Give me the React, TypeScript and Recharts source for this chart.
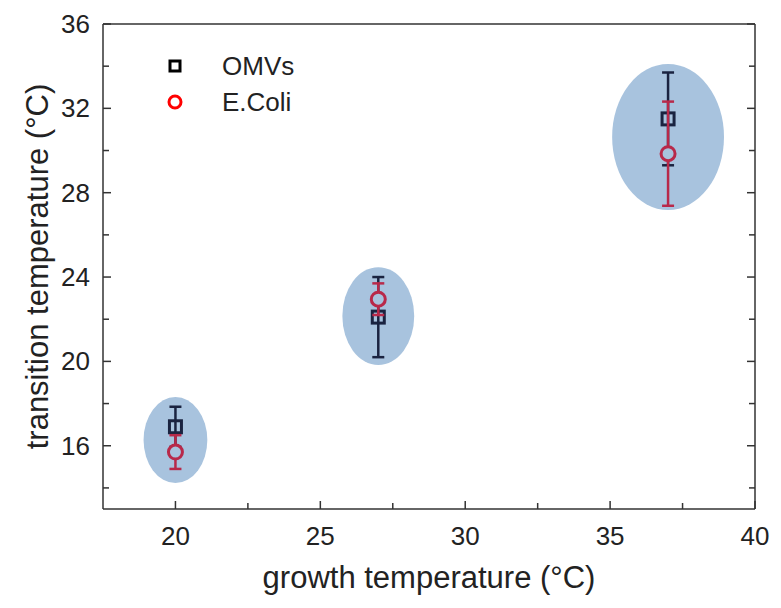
import React from "react";
import { ScatterChart, Scatter, XAxis, YAxis, Legend } from "recharts";

document.body.style.margin = "0";

// values
const growthTemps = [20, 27, 37];
const omvValues = [16.9, 22.1, 31.5];
const omvErrors = [0.95, 1.9, 2.2];
const ecoliValues = [15.7, 22.95, 29.85];
const ecoliErrors = [0.8, 0.75, 2.47];

// shaded groups around each growth temperature (centre + half sizes, data units)
const groupCenters = [16.27, 22.15, 30.64];
const groupRx = [1.1, 1.24, 1.93];
const groupRy = [2.04, 2.32, 3.46];

const xTicks = [20, 22.5, 25, 27.5, 30, 32.5, 35, 37.5, 40];
const yTicks = [14, 16, 18, 20, 22, 24, 26, 28, 30, 32, 34, 36];

const X_DOMAIN: [number, number] = [17.5, 40];
const Y_DOMAIN: [number, number] = [13, 36];

const WIDTH = 781;
const HEIGHT = 608;
const LEFT_W = 103;
const RIGHT_W = 26;
const TOP_H = 24;
const BOTTOM_H = 99;
const PLOT_W = WIDTH - LEFT_W - RIGHT_W;
const PLOT_H = HEIGHT - TOP_H - BOTTOM_H;
// pixels per data unit, used to size the shaded groups and the error bars
const PX_X = PLOT_W / (X_DOMAIN[1] - X_DOMAIN[0]);
const PX_Y = PLOT_H / (Y_DOMAIN[1] - Y_DOMAIN[0]);

const AXIS = "#333333";
const TEXT = "#222222";
const NAVY = "#1a2340";
const CRIMSON = "#b8294a";
const BLOB = "#a8c3de";
const FONT = "'Liberation Sans', Arial, sans-serif";

const omvData = growthTemps.map((x, i) => ({ x, y: omvValues[i], err: omvErrors[i] }));
const ecoliData = growthTemps.map((x, i) => ({ x, y: ecoliValues[i], err: ecoliErrors[i] }));
const groupData = growthTemps.map((x, i) => ({
  x,
  y: groupCenters[i],
  rx: groupRx[i],
  ry: groupRy[i],
}));

const LEFT_MARGIN = 13;
const BOTTOM_MARGIN = 10;

const LeftTick = ({ x, y, payload }: any) => {
  const v = payload.value;
  const major = v % 4 === 0;
  const ax = x + LEFT_MARGIN;
  return (
    <g>
      <line x1={ax} x2={ax + (major ? 8 : 6)} y1={y} y2={y} stroke={AXIS} strokeWidth={1.5} />
      {major && (
        <text x={x} y={y} dy={9} textAnchor="end" fontSize={26} fill={TEXT} fontFamily={FONT}>
          {v}
        </text>
      )}
    </g>
  );
};

const RightTick = ({ x, y, payload }: any) => {
  const major = payload.value % 4 === 0;
  return <line x1={x} x2={x - (major ? 8 : 6)} y1={y} y2={y} stroke={AXIS} strokeWidth={1.5} />;
};

const BottomTick = ({ x, y, payload }: any) => {
  const v = payload.value;
  const major = v % 5 === 0;
  const ay = y - BOTTOM_MARGIN;
  return (
    <g>
      <line x1={x} x2={x} y1={ay} y2={ay - (major ? 8 : 6)} stroke={AXIS} strokeWidth={1.5} />
      {major && (
        <text x={x} y={ay} dy={36} textAnchor="middle" fontSize={26} fill={TEXT} fontFamily={FONT}>
          {v}
        </text>
      )}
    </g>
  );
};

const TopTick = ({ x, y, payload }: any) => {
  const major = payload.value % 5 === 0;
  return <line x1={x} x2={x} y1={y} y2={y + (major ? 8 : 6)} stroke={AXIS} strokeWidth={1.5} />;
};

const Whisker = ({ cx, cy, err, color }: any) => {
  const h = err * PX_Y;
  return (
    <g stroke={color} strokeWidth={2.5}>
      <line x1={cx} x2={cx} y1={cy - h} y2={cy + h} />
      <line x1={cx - 6} x2={cx + 6} y1={cy - h} y2={cy - h} />
      <line x1={cx - 6} x2={cx + 6} y1={cy + h} y2={cy + h} />
    </g>
  );
};

const Square = ({ cx, cy, payload }: any) => (
  <g>
    <Whisker cx={cx} cy={cy} err={payload.err} color={NAVY} />
    <rect x={cx - 6} y={cy - 6} width={12} height={12} fill="none" stroke={NAVY} strokeWidth={3} />
  </g>
);

const Ring = ({ cx, cy, payload }: any) => (
  <g>
    <Whisker cx={cx} cy={cy} err={payload.err} color={CRIMSON} />
    <circle cx={cx} cy={cy} r={7} fill={BLOB} stroke={CRIMSON} strokeWidth={3} />
  </g>
);

const Blob = ({ cx, cy, payload }: any) => (
  <ellipse cx={cx} cy={cy} rx={payload.rx * PX_X} ry={payload.ry * PX_Y} fill={BLOB} />
);

const LegendBox = () => (
  <div style={{ fontFamily: FONT, fontSize: 26, color: TEXT }}>
    <div style={{ display: "flex", alignItems: "center", height: 36 }}>
      <svg width={30} height={36}>
        <rect x={10} y={13} width={10} height={10} fill="none" stroke="#000" strokeWidth={3} />
      </svg>
      <span style={{ marginLeft: 32 }}>OMVs</span>
    </div>
    <div style={{ display: "flex", alignItems: "center", height: 36 }}>
      <svg width={30} height={36}>
        <circle cx={15} cy={18} r={6} fill="none" stroke="#ff0000" strokeWidth={3} />
      </svg>
      <span style={{ marginLeft: 32 }}>E.Coli</span>
    </div>
  </div>
);

export default function App() {
  return (
    <ScatterChart
      width={WIDTH}
      height={HEIGHT}
      margin={{ top: 0, right: 0, bottom: 0, left: 0 }}
      style={{ fontFamily: FONT }}
    >
      <XAxis
        xAxisId={0}
        type="number"
        dataKey="x"
        domain={X_DOMAIN}
        ticks={xTicks}
        allowDataOverflow
        height={BOTTOM_H}
        stroke={AXIS}
        strokeWidth={1.5}
        tickLine={false}
        tickSize={0}
        tickMargin={BOTTOM_MARGIN}
        tick={<BottomTick />}
        interval={0}
        label={{
          value: "growth temperature (°C)",
          position: "insideBottom",
          offset: 20,
          fontSize: 31,
          fill: TEXT,
        }}
      />
      <XAxis
        xAxisId="top"
        orientation="top"
        type="number"
        domain={X_DOMAIN}
        ticks={xTicks}
        allowDataOverflow
        height={TOP_H}
        stroke={AXIS}
        strokeWidth={1.5}
        tickLine={false}
        tickSize={0}
        tickMargin={0}
        tick={<TopTick />}
        interval={0}
      />
      <YAxis
        yAxisId={0}
        type="number"
        dataKey="y"
        domain={Y_DOMAIN}
        ticks={yTicks}
        allowDataOverflow
        width={LEFT_W}
        stroke={AXIS}
        strokeWidth={1.5}
        tickLine={false}
        tickSize={0}
        tickMargin={LEFT_MARGIN}
        tick={<LeftTick />}
        interval={0}
        label={{
          value: "transition temperature (°C)",
          angle: -90,
          position: "insideLeft",
          offset: 37,
          fontSize: 31,
          fill: TEXT,
          style: { textAnchor: "middle" },
        }}
      />
      <YAxis
        yAxisId="right"
        orientation="right"
        type="number"
        domain={Y_DOMAIN}
        ticks={yTicks}
        allowDataOverflow
        width={RIGHT_W}
        stroke={AXIS}
        strokeWidth={1.5}
        tickLine={false}
        tickSize={0}
        tickMargin={0}
        tick={<RightTick />}
        interval={0}
      />
      <Legend
        layout="vertical"
        align="center"
        verticalAlign="middle"
        content={<LegendBox />}
        wrapperStyle={{ left: 160, top: 48, width: 220 }}
      />
      <Scatter
        name="groups"
        data={groupData}
        shape={<Blob />}
        isAnimationActive={false}
        legendType="none"
      />
      <Scatter name="OMVs" data={omvData} shape={<Square />} isAnimationActive={false} />
      <Scatter name="E.Coli" data={ecoliData} shape={<Ring />} isAnimationActive={false} />
    </ScatterChart>
  );
}
